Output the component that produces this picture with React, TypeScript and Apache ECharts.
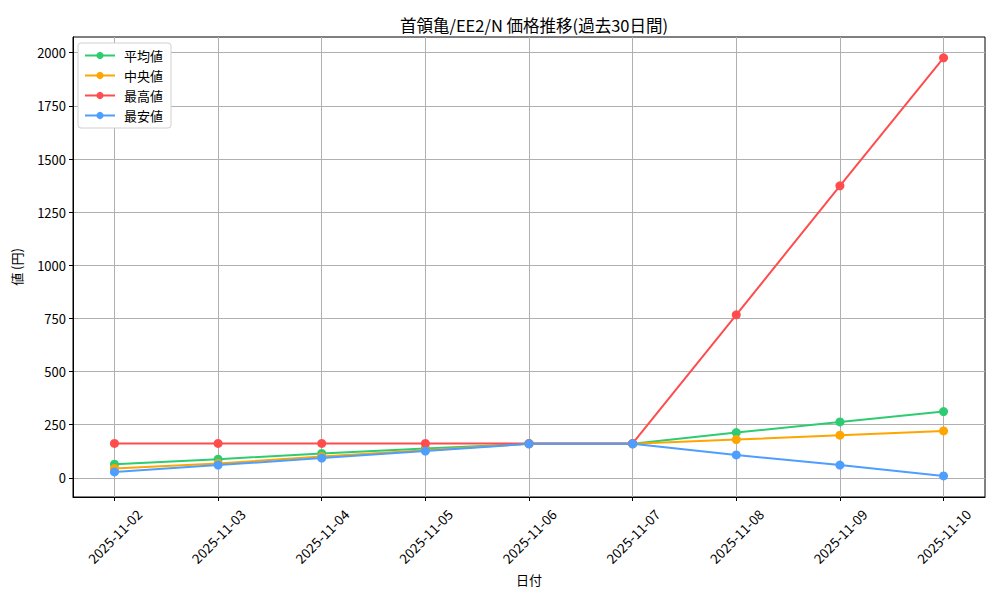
import { useEffect, useRef } from "react"
import * as echarts from "echarts"

const dates = [
  "2025-11-02", "2025-11-03", "2025-11-04", "2025-11-05", "2025-11-06",
  "2025-11-07", "2025-11-08", "2025-11-09", "2025-11-10",
]
const avgValues = [64, 88, 115, 138, 160, 160, 213, 263, 312]
const medianValues = [44, 68, 100, 130, 160, 160, 180, 201, 221]
const maxValues = [162, 162, 162, 162, 162, 162, 767, 1374, 1976]
const minValues = [28, 60, 93, 126, 160, 160, 108, 60, 9]
const yTicks = [0, 250, 500, 750, 1000, 1250, 1500, 1750, 2000]

const seriesDefs = [
  { name: "平均値", color: "#2ecc71", values: avgValues },
  { name: "中央値", color: "#ffa500", values: medianValues },
  { name: "最高値", color: "#ff4d4d", values: maxValues },
  { name: "最安値", color: "#4d9eff", values: minValues },
]

const FONT = "'Noto Sans CJK JP', sans-serif"

export default function App() {
  const chartRef = useRef<HTMLDivElement>(null)

  useEffect(() => {
    if (!chartRef.current) return
    const chart = echarts.init(chartRef.current, null, { renderer: "svg" })

    const option = {
      animation: false,
      backgroundColor: "#fff",
      textStyle: { fontFamily: FONT },
      title: {
        text: "首領亀/EE2/N 価格推移(過去30日間)",
        left: 529,
        top: 12,
        textAlign: "center",
        textStyle: { fontFamily: FONT, fontSize: 16.5, fontWeight: "normal", color: "#000" },
      },
      legend: {
        orient: "vertical",
        left: 78,
        top: 43,
        padding: [6, 8, 6, 6],
        itemGap: 7,
        itemWidth: 30,
        itemHeight: 9,
        backgroundColor: "#fff",
        borderColor: "#d0d0d0",
        borderWidth: 1,
        borderRadius: 3,
        textStyle: { fontFamily: FONT, fontSize: 13, color: "#000", padding: [0, 0, 0, 4] },
        data: seriesDefs.map(s => s.name),
      },
      grid: {
        left: 73,
        right: 15,
        top: 37,
        bottom: 103,
        show: true,
        borderColor: "#000",
        borderWidth: 1,
      },
      xAxis: {
        type: "value",
        min: -0.4,
        max: 8.4,
        name: "日付",
        nameLocation: "middle",
        nameGap: 76,
        nameTextStyle: { fontFamily: FONT, fontSize: 13, color: "#000" },
        axisLine: { show: true, onZero: false, lineStyle: { color: "#000" } },
        axisTick: {
          show: true,
          length: 4,
          lineStyle: { color: "#000" },
          customValues: dates.map((_, i) => i),
        },
        axisLabel: {
          customValues: dates.map((_, i) => i),
          formatter: (v: number) => dates[Math.round(v)] ?? "",
          rotate: 45,
          align: "center",
          verticalAlign: "middle",
          margin: 39,
          fontFamily: FONT,
          fontSize: 13.5,
          color: "#000",
        },
        splitLine: { show: true, lineStyle: { color: "#b0b0b0", width: 1 } },
      },
      yAxis: {
        type: "value",
        min: -90,
        max: 2074,
        name: "値 (円)",
        nameLocation: "middle",
        nameGap: 50,
        nameTextStyle: { fontFamily: FONT, fontSize: 13, color: "#000" },
        axisLine: { show: true, onZero: false, lineStyle: { color: "#000" } },
        axisTick: {
          show: true,
          length: 4,
          lineStyle: { color: "#000" },
          customValues: yTicks,
        },
        axisLabel: {
          customValues: yTicks,
          formatter: (v: number) => String(v),
          margin: 7,
          fontFamily: FONT,
          fontSize: 13,
          color: "#000",
        },
        splitLine: { show: true, lineStyle: { color: "#b0b0b0", width: 1 } },
      },
      series: seriesDefs.map(s => ({
        name: s.name,
        type: "line",
        data: s.values.map((v, i) => [i, v]),
        symbol: "circle",
        symbolSize: 9,
        itemStyle: { color: s.color },
        lineStyle: { color: s.color, width: 2 },
      })),
    }

    chart.setOption(option)
    return () => {
      chart.dispose()
    }
  }, [])

  return <div ref={chartRef} style={{ width: 1000, height: 600, margin: -8 }} />
}
